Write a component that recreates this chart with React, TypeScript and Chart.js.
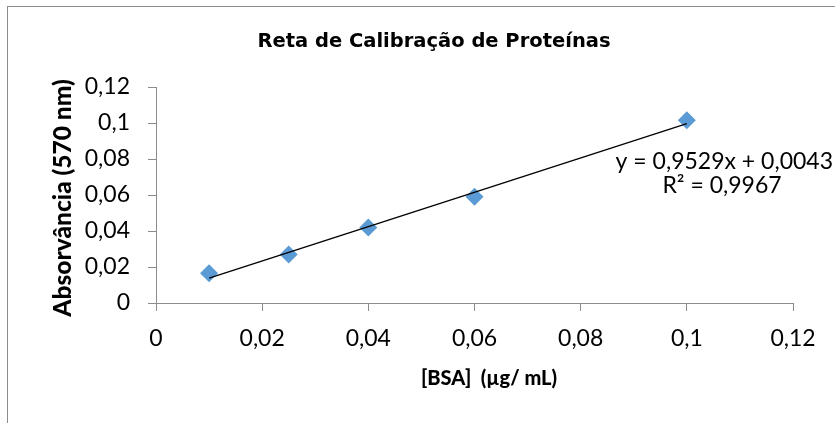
import React, { useEffect, useRef } from "react";
import { Chart, registerables } from "chart.js";

Chart.register(...registerables);

const concentrations = [0.01, 0.025, 0.04, 0.06, 0.1];
const absorbances = [0.0165, 0.027, 0.042, 0.059, 0.1015];
const slope = 0.9529;
const intercept = 0.0043;
const trendX = [0.01, 0.1];
const chartTitle = "Reta de Calibração de Proteínas";
const xTitle = "[BSA]  (µg/ mL)";
const yTitle = "Absorvância (570 nm)";
const eqText = "y = 0,9529x + 0,0043";
const r2Text = "R² = 0,9967";

const FONT = "Lato, 'Open Sans', sans-serif";
const TITLE_FONT = "'DejaVu Sans', sans-serif";

const fmt = (v: number) => {
  const r = Math.round(v * 100) / 100;
  return String(r).replace(".", ",");
};

export default function App() {
  const ref = useRef<HTMLCanvasElement>(null);
  useEffect(() => {
    if (!ref.current) return;
    const textPlugin = {
      id: "texts",
      afterDraw(chart: any) {
        const ctx = chart.ctx;
        ctx.save();
        ctx.fillStyle = "#000";
        ctx.textBaseline = "middle";
        ctx.textAlign = "center";
        ctx.font = `bold 19.5px ${TITLE_FONT}`;
        ctx.fillText(chartTitle, 434, 42);
        ctx.font = `900 20px ${FONT}`;
        ctx.fillText(xTitle, 489, 379);
        ctx.save();
        ctx.font = `900 24.5px ${FONT}`;
        ctx.translate(63, 198);
        ctx.rotate(-Math.PI / 2);
        ctx.fillText(yTitle, 0, 0);
        ctx.restore();
        ctx.font = `23px ${FONT}`;
        ctx.textAlign = "right";
        ctx.fillText(eqText, 833, 162);
        ctx.textAlign = "center";
        ctx.fillText(r2Text, 722, 186);
        ctx.restore();
      },
    };
    const chart = new Chart(ref.current, {
      type: "scatter",
      data: {
        datasets: [
          {
            label: "Dados",
            data: concentrations.map((x, i) => ({ x, y: absorbances[i] })),
            pointStyle: "rectRot",
            pointRadius: 9,
            pointHoverRadius: 9,
            backgroundColor: "#5B9BD5",
            borderWidth: 0,
            showLine: false,
            order: 2,
          },
          {
            label: "Linear",
            data: trendX.map((x) => ({ x, y: slope * x + intercept })),
            showLine: true,
            borderColor: "#000",
            borderWidth: 1.3,
            pointRadius: 0,
            order: 1,
          },
        ],
      },
      options: {
        responsive: false,
        animation: false,
        layout: { padding: { top: 87, right: 42, left: 0, bottom: 0 } },
        plugins: {
          legend: { display: false },
          tooltip: { enabled: false },
          title: { display: false },
        },
        scales: {
          x: {
            type: "linear",
            min: 0,
            max: 0.12,
            afterFit: (s: any) => {
              s.height = 120;
            },
            ticks: {
              stepSize: 0.02,
              callback: (v: any) => fmt(Number(v)),
              color: "#000",
              font: { family: FONT, size: 23 },
              padding: 14,
            },
            grid: {
              drawOnChartArea: false,
              drawTicks: true,
              tickLength: 8,
              color: "#8c8c8c",
            },
            border: { color: "#8c8c8c", width: 1 },
          },
          y: {
            type: "linear",
            min: 0,
            max: 0.12,
            afterFit: (s: any) => {
              s.width = 156;
            },
            ticks: {
              stepSize: 0.02,
              callback: (v: any) => fmt(Number(v)),
              color: "#000",
              font: { family: FONT, size: 23 },
              padding: 18,
            },
            grid: {
              drawOnChartArea: false,
              drawTicks: true,
              tickLength: 8,
              color: "#8c8c8c",
            },
            border: { color: "#8c8c8c", width: 1 },
          },
        },
      },
      plugins: [textPlugin],
    });
    return () => chart.destroy();
  }, []);
  return (
    <div style={{ position: "fixed", left: 0, top: 0, width: 835, height: 423, background: "#fff", overflow: "hidden" }}>
      <div
        style={{
          position: "absolute",
          left: 7,
          top: 6,
          width: 840,
          height: 430,
          border: "1px solid #8c8c8c",
          boxSizing: "border-box",
        }}
      />
      <canvas ref={ref} width={835} height={423} style={{ position: "absolute", left: 0, top: 0 }} />
    </div>
  );
}
